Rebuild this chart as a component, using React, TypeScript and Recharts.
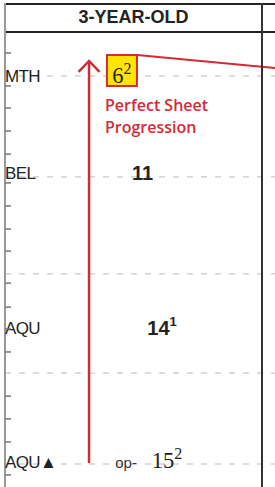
import React from "react";
import {
  ScatterChart,
  Scatter,
  XAxis,
  YAxis,
  ReferenceLine,
  ReferenceDot,
} from "recharts";

// one row per race, top of the sheet = most recent
const TRACKS = ["MTH", "BEL", "AQU", "AQU▲"];
const ROWS = [0, 4, 10.39, 15.88];
const FIGURES = ["6", "11", "14", "15"];
const SUPERS = ["2", "", "1", "2"];
const PREFIXES = ["", "", "", "op-"];
const COLUMN_POS = [45.5, 53.5, 61.1, 63];

// month ticks down the column rules, and the dashed quarter dividers
const MONTH_TICKS = [
  -0.95, 0.41, 1.32, 2.27, 3.22, 4.41, 5.36, 6.31, 7.22, 8.54, 9.53, 10.43,
  11.38, 13.2, 14.14, 15.09, 16.45,
];
const DIVIDERS = [0, 4.16, 8.16, 12.25, 16];

const Y_DOMAIN = [-1.814, 16.948];
const X_DOMAIN = [0, 100];
const X_EDGE = 105.06; // picture edge, past the next column's rule

const ARROW = { x: 32.7, from: 15.96, to: -0.62 };
const LINK = [
  { x: 51.4, y: -0.87 },
  { x: 105.06, y: -0.33 },
];
const NOTE = { x: 38.9, y: 1.46, lines: ["Perfect Sheet", "Progression"] };

const HIGHLIGHT = 0;
const SERIF = new Set([0, 3]);
const RED = "#d42a35";

const races = TRACKS.map((track, i) => ({
  idx: i,
  track,
  y: ROWS[i],
  x: COLUMN_POS[i],
  fig: FIGURES[i],
  sup: SUPERS[i],
  prefix: PREFIXES[i],
}));

const SheetTick = (props: any) => {
  const { x, y, payload } = props;
  const row = ROWS.indexOf(payload.value);
  if (row >= 0) {
    return (
      <text x={x} y={y + 6.5} fontFamily="Liberation Sans" fontSize={17} letterSpacing={-0.6} fill="#222">
        {TRACKS[row]}
      </text>
    );
  }
  return <line x1={x} x2={x + 6} y1={y} y2={y} stroke="#777" strokeWidth={1.5} />;
};

const FigureMark = (props: any) => {
  const { cx, cy, payload } = props;
  const i = payload.idx;
  const serif = SERIF.has(i);
  const base = cy + 7;
  return (
    <g>
      {i === HIGHLIGHT && (
        <rect x={cx - 15} y={cy - 21} width={30} height={31} fill="#ffe500" stroke={RED} strokeWidth={2} />
      )}
      {payload.prefix && (
        <text x={cx - 30} y={base} textAnchor="end" fontFamily="Liberation Sans" fontSize={15} fill="#333">
          {payload.prefix}
        </text>
      )}
      <text
        x={cx}
        y={base}
        textAnchor="middle"
        fontFamily={serif ? "Liberation Serif" : "Liberation Sans"}
        fontWeight={serif ? 400 : 700}
        fontSize={serif ? 22.5 : 20}
        fill="#222"
      >
        {payload.fig}
        {payload.sup && (
          <tspan dy={-9} fontSize={serif ? 16 : 13}>
            {payload.sup}
          </tspan>
        )}
      </text>
    </g>
  );
};

const ArrowShape = (props: any) => {
  const { x1, y1, x2, y2 } = props;
  return (
    <g stroke={RED} strokeWidth={2.5} fill="none">
      <line x1={x1} y1={y1} x2={x2} y2={y2} />
      <polyline points={`${x2 - 10.5},${y2 + 11} ${x2},${y2} ${x2 + 10.5},${y2 + 11}`} />
    </g>
  );
};

const NoteShape = (props: any) => {
  const { cx, cy } = props;
  return (
    <g fill={RED} fontFamily="Open Sans" fontWeight={600} fontSize={16}>
      {NOTE.lines.map((l, i) => (
        <text key={l} x={cx} y={cy + i * 22}>
          {l}
        </text>
      ))}
    </g>
  );
};

const bar = (left: number, top: number, width: number, height: number, bg: string) => (
  <div style={{ position: "absolute", left, top, width, height, background: bg }} />
);

export default function App() {
  return (
    <div
      style={{
        position: "absolute",
        left: 0,
        top: 0,
        width: 275,
        height: 487,
        background: "#fff",
        overflow: "hidden",
      }}
    >
      {bar(4, 3, 271, 2, "#222")}
      {bar(4, 31, 271, 2, "#222")}
      {bar(4, 3, 2, 30, "#999")}
      {bar(261, 3, 2, 30, "#333")}
      <div style={{ position: "absolute", left: 0, top: 0 }}>
        <ScatterChart width={275} height={487} margin={{ top: 2, right: 0, bottom: 0, left: 5 }}>
          <XAxis
            type="number"
            dataKey="x"
            domain={X_DOMAIN}
            allowDataOverflow
            orientation="top"
            height={30}
            axisLine={false}
            tickLine={false}
            tick={false}
            label={{
              value: "3-YEAR-OLD",
              position: "center",
              fill: "#222",
              fontSize: 18,
              fontWeight: 700,
              fontFamily: "Liberation Sans",
            }}
          />
          <YAxis
            type="number"
            dataKey="y"
            domain={Y_DOMAIN}
            reversed
            allowDataOverflow
            mirror
            ticks={[...MONTH_TICKS, ...ROWS].sort((a, b) => a - b)}
            interval={0}
            tickSize={0}
            tickMargin={0}
            tickLine={false}
            tick={<SheetTick />}
            axisLine={{ stroke: "#999", strokeWidth: 2 }}
          />
          <YAxis
            yAxisId="r"
            orientation="right"
            width={13}
            type="number"
            domain={Y_DOMAIN}
            reversed
            allowDataOverflow
            ticks={MONTH_TICKS}
            interval={0}
            tick={false}
            tickSize={6}
            tickLine={{ stroke: "#444", strokeWidth: 1.5 }}
            axisLine={{ stroke: "#333", strokeWidth: 2 }}
          />
          {DIVIDERS.map((d) => (
            <ReferenceLine
              key={d}
              segment={[
                { x: 0, y: d },
                { x: X_EDGE, y: d },
              ]}
              ifOverflow="visible"
              stroke="#bbb"
              strokeWidth={1}
              strokeDasharray="6 8"
            />
          ))}
          <ReferenceLine
            segment={[
              { x: ARROW.x, y: ARROW.from },
              { x: ARROW.x, y: ARROW.to },
            ]}
            ifOverflow="visible"
            shape={ArrowShape}
          />
          <ReferenceLine segment={LINK} ifOverflow="visible" stroke={RED} strokeWidth={2} />
          <ReferenceDot x={NOTE.x} y={NOTE.y} ifOverflow="visible" shape={NoteShape} />
          <Scatter data={races} shape={FigureMark} isAnimationActive={false} />
        </ScatterChart>
      </div>
    </div>
  );
}
